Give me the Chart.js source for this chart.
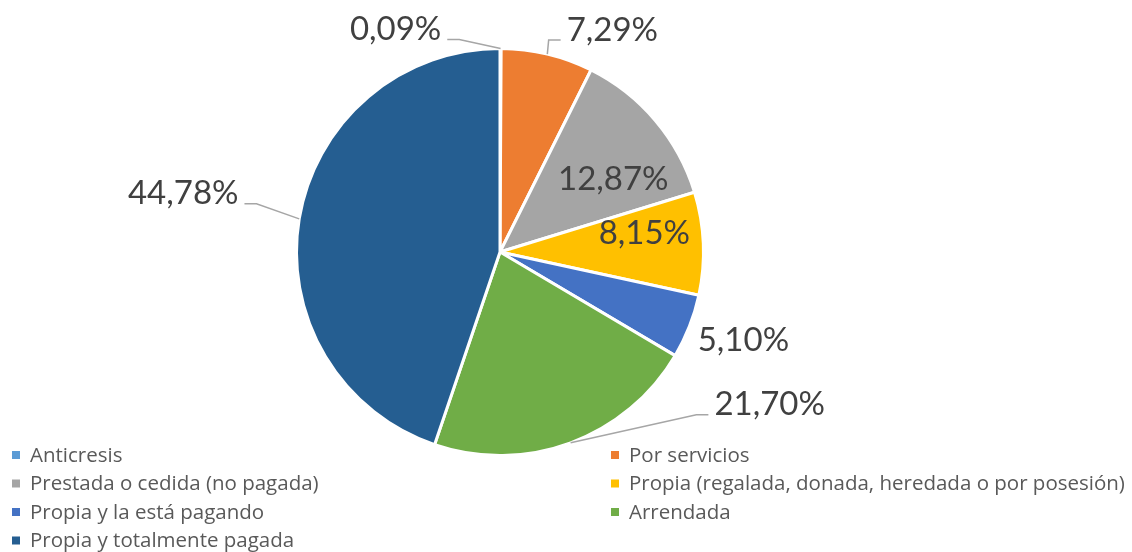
<!DOCTYPE html>
<html>
<head>
<meta charset="utf-8">
<script src="https://cdn.jsdelivr.net/npm/chart.js@4"></script>
<style>
  html, body { margin: 0; padding: 0; background: #fff; }
  #wrap { width: 1132px; height: 552px; }
</style>
</head>
<body>
<div id="wrap"><canvas id="myChart" width="1132" height="552"></canvas></div>
<script>
// data
var categories = [
    'Anticresis',
    'Por servicios',
    'Prestada o cedida (no pagada)',
    'Propia (regalada, donada, heredada o por posesión)',
    'Propia y la está pagando',
    'Arrendada',
    'Propia y totalmente pagada'
];
var values = [0.09, 7.29, 12.87, 8.15, 5.10, 21.70, 44.78];
var colors = ['#5B9BD5', '#ED7D31', '#A5A5A5', '#FFC000', '#4472C4', '#70AD47', '#255E91'];

// where each percentage sits, relative to the middle of its slice's outer edge
var labelOffsets = [[-105, -19], [65, -24], [-42, 59], [-59, -10], [54, 14], [199, -38], [-116, -25]];
// which side of the text a leader line attaches to (null = no leader)
var leaders = ['right', 'left', null, null, null, 'left', 'right'];

function fmt(v) {
    return v.toFixed(2).replace('.', ',') + '%';
}

var labelPlugin = {
    id: 'pctLabels',
    afterDatasetsDraw: function(chart) {
        var ctx = chart.ctx;
        var meta = chart.getDatasetMeta(0);
        ctx.save();
        ctx.font = '33px Lato';
        ctx.textBaseline = 'middle';
        ctx.textAlign = 'center';
        meta.data.forEach(function(arc, i) {
            var p = arc.getProps(['x', 'y', 'startAngle', 'endAngle', 'outerRadius'], true);
            var mid = (p.startAngle + p.endAngle) / 2;
            var ex = p.x + Math.cos(mid) * p.outerRadius;
            var ey = p.y + Math.sin(mid) * p.outerRadius;
            var tx = ex + labelOffsets[i][0];
            var ty = ey + labelOffsets[i][1];
            var txt = fmt(values[i]);
            var w = ctx.measureText(txt).width;
            if (leaders[i]) {
                var ax, bx;
                var ay = ty + 10;
                if (leaders[i] == 'right') {
                    ax = tx + w / 2 + 6;
                    bx = ax + 12;
                } else {
                    ax = tx - w / 2 - 6;
                    bx = ax - 12;
                }
                ctx.strokeStyle = '#A6A6A6';
                ctx.lineWidth = 1.5;
                ctx.beginPath();
                ctx.moveTo(ex, ey);
                ctx.lineTo(bx, ay);
                ctx.lineTo(ax, ay);
                ctx.stroke();
            }
            ctx.fillStyle = '#404040';
            ctx.fillText(txt, tx, ty);
        });
        ctx.restore();
    }
};

// two column legend under the pie
var legendPlugin = {
    id: 'twoColLegend',
    afterDraw: function(chart) {
        var ctx = chart.ctx;
        ctx.save();
        ctx.font = '20.5px "Open Sans"';
        ctx.textBaseline = 'middle';
        ctx.textAlign = 'left';
        var colX = [12, 611];
        var rowY = 455, rowH = 28.5;
        categories.forEach(function(c, i) {
            var x = colX[i % 2];
            var y = rowY + Math.floor(i / 2) * rowH;
            ctx.fillStyle = colors[i];
            ctx.fillRect(x, y - 4, 8, 8);
            ctx.fillStyle = '#595959';
            ctx.fillText(c, x + 18, y + 1);
        });
        ctx.restore();
    }
};

var ctx = document.getElementById('myChart').getContext('2d');
var myChart = new Chart(ctx, {
    type: 'pie',
    data: {
        labels: categories,
        datasets: [{
            data: values,
            backgroundColor: colors,
            borderColor: '#ffffff',
            borderWidth: 3
        }]
    },
    options: {
        responsive: false,
        animation: false,
        layout: {
            padding: { top: 47, bottom: 95, left: 295, right: 427 }
        },
        plugins: {
            legend: { display: false },
            tooltip: { enabled: false }
        }
    },
    plugins: [labelPlugin, legendPlugin]
});
</script>
</body>
</html>
